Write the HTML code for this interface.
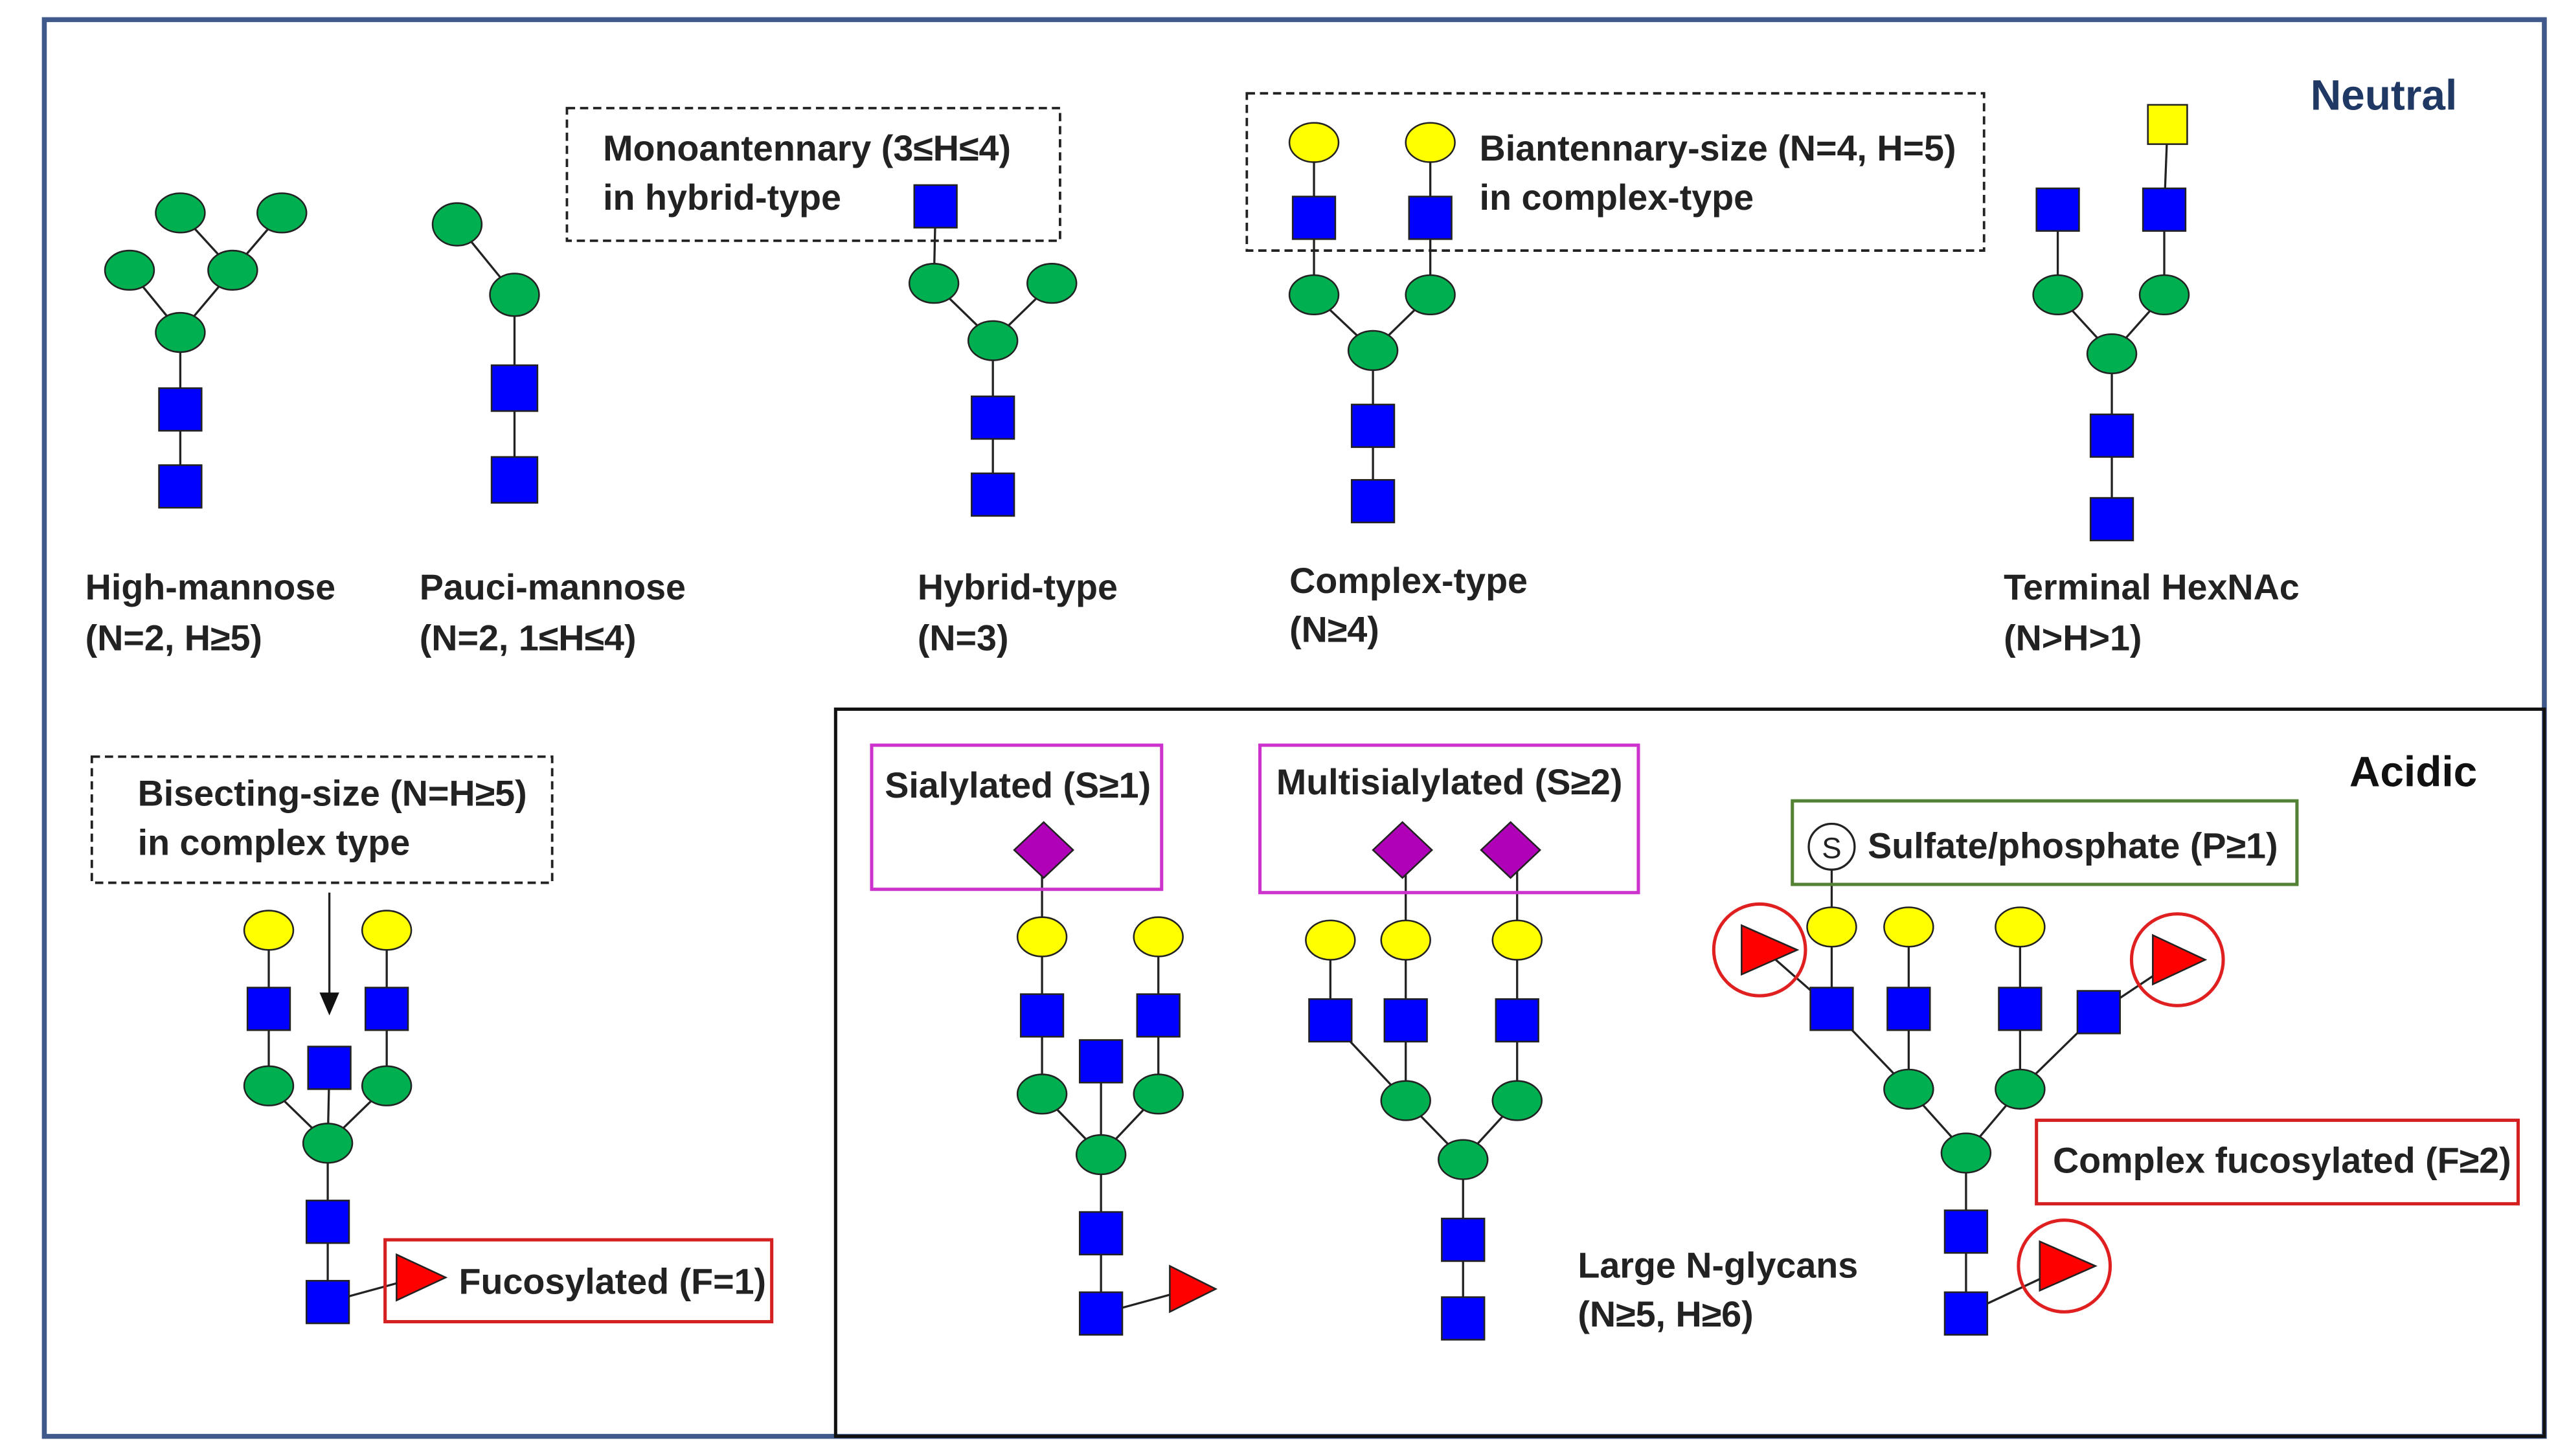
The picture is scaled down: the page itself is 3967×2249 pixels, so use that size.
<!DOCTYPE html>
<html><head><meta charset="utf-8"><style>
html,body{margin:0;padding:0;background:#fff}
svg{display:block}
text{font-family:"Liberation Sans",Arial,sans-serif;font-weight:bold;font-size:22px;fill:#222}
.g{fill:#00b050;stroke:#222;stroke-width:1}
.b{fill:#0000ff;stroke:#222;stroke-width:1}
.y{fill:#ffff00;stroke:#222;stroke-width:1}
.l{stroke:#222;stroke-width:1.3;fill:none}
.f{fill:#ff0000;stroke:#222;stroke-width:1}
.d{fill:#b000b8;stroke:#222;stroke-width:1}
</style></head><body>
<svg width="3967" height="2249" viewBox="0 0 1568 889" xmlns="http://www.w3.org/2000/svg">
<rect x="0" y="0" width="1568" height="889" fill="#fff"/>
<rect x="27" y="12" width="1526" height="865" fill="none" stroke="#3f5a8a" stroke-width="3"/>
<rect x="510" y="433" width="1043" height="444" fill="none" stroke="#111" stroke-width="2"/>

<g class="l">
<polyline points="110,297 110,203 79,165"/><line x1="110" y1="203" x2="142" y2="165"/><line x1="142" y1="165" x2="110" y2="130"/><line x1="142" y1="165" x2="172" y2="130"/>
<polyline points="314,293 314,180 279,137"/>
<polyline points="606,302 606,208 570,173 571,126"/><line x1="606" y1="208" x2="642" y2="173"/>
<polyline points="838,306 838,214 802,180 802,87"/><polyline points="838,214 873,180 873,87"/>
<polyline points="1289,317 1289,216 1256,180 1256,128"/><polyline points="1289,216 1321,180 1321,128 1323,76"/>
<polyline points="200,795 200,698 164,663 164,568"/><polyline points="200,698 236,663 236,568"/><line x1="200" y1="698" x2="201" y2="652"/><line x1="200" y1="795" x2="255" y2="780"/>
<line x1="201" y1="545" x2="201" y2="612"/>
<polyline points="672,802 672,705 636,668 636,519"/><polyline points="672,705 707,668 707,572"/><line x1="672" y1="705" x2="672" y2="648"/><line x1="672" y1="802" x2="727" y2="787"/>
<polyline points="893,805 893,708 858,672 858,519"/><line x1="858" y1="672" x2="812" y2="623"/><line x1="812" y1="623" x2="812" y2="574"/><polyline points="893,708 926,672 926,519"/>
<polyline points="1200,802 1200,704 1165,665 1118,616 1118,517"/><line x1="1165" y1="665" x2="1165" y2="566"/><polyline points="1200,704 1233,665 1233,566"/><line x1="1233" y1="665" x2="1281" y2="618"/>
<line x1="1118" y1="616" x2="1077" y2="580"/><line x1="1281" y1="618" x2="1329" y2="586"/><line x1="1200" y1="802" x2="1262" y2="773"/>
</g>
<polygon points="195,606 207,606 201,620" fill="#111"/>

<g class="g">
<ellipse cx="110" cy="203" rx="15" ry="12"/><ellipse cx="79" cy="165" rx="15" ry="12"/><ellipse cx="142" cy="165" rx="15" ry="12"/><ellipse cx="110" cy="130" rx="15" ry="12"/><ellipse cx="172" cy="130" rx="15" ry="12"/>
<ellipse cx="314" cy="180" rx="15" ry="13"/><ellipse cx="279" cy="137" rx="15" ry="13"/>
<ellipse cx="606" cy="208" rx="15" ry="12"/><ellipse cx="570" cy="173" rx="15" ry="12"/><ellipse cx="642" cy="173" rx="15" ry="12"/>
<ellipse cx="838" cy="214" rx="15" ry="12"/><ellipse cx="802" cy="180" rx="15" ry="12"/><ellipse cx="873" cy="180" rx="15" ry="12"/>
<ellipse cx="1289" cy="216" rx="15" ry="12"/><ellipse cx="1256" cy="180" rx="15" ry="12"/><ellipse cx="1321" cy="180" rx="15" ry="12"/>
<ellipse cx="200" cy="698" rx="15" ry="12"/><ellipse cx="164" cy="663" rx="15" ry="12"/><ellipse cx="236" cy="663" rx="15" ry="12"/>
<ellipse cx="672" cy="705" rx="15" ry="12"/><ellipse cx="636" cy="668" rx="15" ry="12"/><ellipse cx="707" cy="668" rx="15" ry="12"/>
<ellipse cx="893" cy="708" rx="15" ry="12"/><ellipse cx="858" cy="672" rx="15" ry="12"/><ellipse cx="926" cy="672" rx="15" ry="12"/>
<ellipse cx="1200" cy="704" rx="15" ry="12"/><ellipse cx="1165" cy="665" rx="15" ry="12"/><ellipse cx="1233" cy="665" rx="15" ry="12"/>
</g>
<g class="y">
<ellipse cx="802" cy="87" rx="15" ry="12"/><ellipse cx="873" cy="87" rx="15" ry="12"/>
<rect x="1311" y="64" width="24" height="24"/>
<ellipse cx="164" cy="568" rx="15" ry="12"/><ellipse cx="236" cy="568" rx="15" ry="12"/>
<ellipse cx="636" cy="572" rx="15" ry="12"/><ellipse cx="707" cy="572" rx="15" ry="12"/>
<ellipse cx="812" cy="574" rx="15" ry="12"/><ellipse cx="858" cy="574" rx="15" ry="12"/><ellipse cx="926" cy="574" rx="15" ry="12"/>
<ellipse cx="1118" cy="566" rx="15" ry="12"/><ellipse cx="1165" cy="566" rx="15" ry="12"/><ellipse cx="1233" cy="566" rx="15" ry="12"/>
</g>
<g class="b">
<rect x="97" y="284" width="26" height="26"/><rect x="97" y="237" width="26" height="26"/>
<rect x="300" y="279" width="28" height="28"/><rect x="300" y="223" width="28" height="28"/>
<rect x="593" y="289" width="26" height="26"/><rect x="593" y="242" width="26" height="26"/><rect x="558" y="113" width="26" height="26"/>
<rect x="825" y="293" width="26" height="26"/><rect x="825" y="247" width="26" height="26"/><rect x="789" y="120" width="26" height="26"/><rect x="860" y="120" width="26" height="26"/>
<rect x="1276" y="304" width="26" height="26"/><rect x="1276" y="253" width="26" height="26"/><rect x="1243" y="115" width="26" height="26"/><rect x="1308" y="115" width="26" height="26"/>
<rect x="187" y="782" width="26" height="26"/><rect x="187" y="733" width="26" height="26"/><rect x="188" y="639" width="26" height="26"/><rect x="151" y="603" width="26" height="26"/><rect x="223" y="603" width="26" height="26"/>
<rect x="659" y="789" width="26" height="26"/><rect x="659" y="740" width="26" height="26"/><rect x="659" y="635" width="26" height="26"/><rect x="623" y="607" width="26" height="26"/><rect x="694" y="607" width="26" height="26"/>
<rect x="880" y="792" width="26" height="26"/><rect x="880" y="744" width="26" height="26"/><rect x="799" y="610" width="26" height="26"/><rect x="845" y="610" width="26" height="26"/><rect x="913" y="610" width="26" height="26"/>
<rect x="1187" y="789" width="26" height="26"/><rect x="1187" y="739" width="26" height="26"/><rect x="1105" y="603" width="26" height="26"/><rect x="1152" y="603" width="26" height="26"/><rect x="1220" y="603" width="26" height="26"/><rect x="1268" y="605" width="26" height="26"/>
</g>
<g class="d">
<polygon points="637,502 655,519 637,536 619,519"/>
<polygon points="856,502 874,519 856,536 838,519"/>
<polygon points="922,502 940,519 922,536 904,519"/>
</g>
<g fill="none" stroke="#e02020" stroke-width="2">
<circle cx="1074" cy="580" r="28"/><circle cx="1329" cy="586" r="28"/><circle cx="1260" cy="773" r="28"/>
</g>
<g class="f">
<polygon points="242,766 272,780 242,794"/>
<polygon points="714,773 742,787 714,801"/>
<polygon points="1063,565 1097,580 1063,595"/>
<polygon points="1314,571 1346,586 1314,601"/>
<polygon points="1245,758 1279,773 1245,788"/>
</g>

<g fill="none" stroke="#222" stroke-width="1.5" stroke-dasharray="5,3">
<rect x="346" y="66" width="301" height="81"/>
<rect x="761" y="57" width="450" height="96"/>
<rect x="56" y="462" width="281" height="77"/>
</g>
<rect x="235" y="757" width="236" height="50" fill="none" stroke="#d42020" stroke-width="2"/>
<rect x="532" y="455" width="177" height="88" fill="none" stroke="#cc33cc" stroke-width="2"/>
<rect x="769" y="455" width="231" height="90" fill="none" stroke="#cc33cc" stroke-width="2"/>
<rect x="1094" y="489" width="308" height="51" fill="none" stroke="#548235" stroke-width="2"/>
<rect x="1243" y="684" width="294" height="51" fill="none" stroke="#d42020" stroke-width="2"/>
<circle cx="1118" cy="517" r="14" fill="#fff" stroke="#222" stroke-width="1.3"/>
<text x="1118" y="524" text-anchor="middle" style="font-weight:normal;font-size:18px">S</text>

<text x="1455" y="67" text-anchor="middle" style="font-size:26px;fill:#1f3864">Neutral</text>
<text x="1473" y="480" text-anchor="middle" style="font-size:26px;fill:#111">Acidic</text>
<text x="368" y="98">Monoantennary (3≤H≤4)</text><text x="368" y="128">in hybrid-type</text>
<text x="903" y="98">Biantennary-size (N=4, H=5)</text><text x="903" y="128">in complex-type</text>
<text x="52" y="366">High-mannose</text><text x="52" y="397">(N=2, H≥5)</text>
<text x="256" y="366">Pauci-mannose</text><text x="256" y="397">(N=2, 1≤H≤4)</text>
<text x="560" y="366">Hybrid-type</text><text x="560" y="397">(N=3)</text>
<text x="787" y="362">Complex-type</text><text x="787" y="392">(N≥4)</text>
<text x="1223" y="366">Terminal HexNAc</text><text x="1223" y="397">(N&gt;H&gt;1)</text>
<text x="84" y="492">Bisecting-size (N=H≥5)</text><text x="84" y="522">in complex type</text>
<text x="280" y="790">Fucosylated (F=1)</text>
<text x="540" y="487">Sialylated (S≥1)</text>
<text x="779" y="485">Multisialylated (S≥2)</text>
<text x="1140" y="524">Sulfate/phosphate (P≥1)</text>
<text x="1253" y="716">Complex fucosylated (F≥2)</text>
<text x="963" y="780">Large N-glycans</text><text x="963" y="810">(N≥5, H≥6)</text>
</svg>
</body></html>
